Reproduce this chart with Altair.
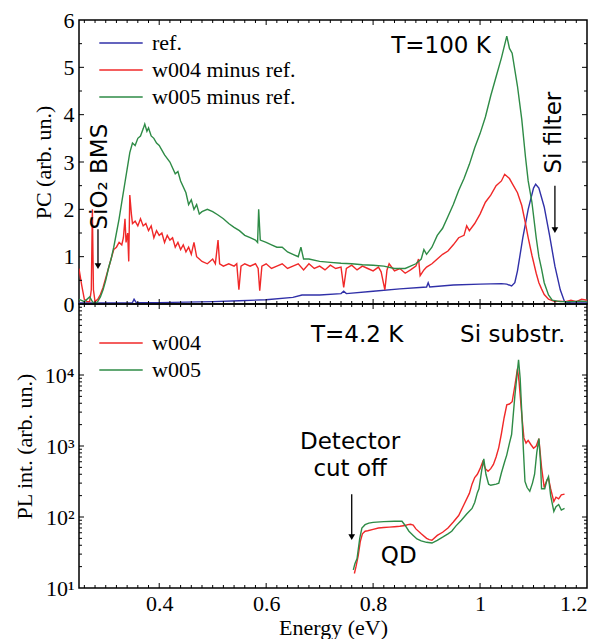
import altair as alt
import pandas as pd

# ---------------- data ----------------
# Top panel: photocurrent, T=100 K
ref_x = [0.25, 0.30, 0.35, 0.353, 0.357, 0.40, 0.45, 0.50, 0.55, 0.60, 0.65, 0.667, 0.70, 0.74,
         0.745, 0.75, 0.80, 0.85, 0.90, 0.903, 0.906, 0.95, 1.00, 1.04, 1.05, 1.059, 1.065, 1.07,
         1.08, 1.09, 1.10, 1.104, 1.11, 1.12, 1.13, 1.14, 1.15, 1.158, 1.17, 1.20]
ref_y = [0.02, 0.02, 0.03, 0.10, 0.03, 0.03, 0.04, 0.05, 0.07, 0.09, 0.14, 0.19, 0.19, 0.22,
         0.27, 0.22, 0.27, 0.32, 0.36, 0.45, 0.36, 0.40, 0.42, 0.43, 0.42, 0.38, 0.45, 0.70,
         1.40, 2.00, 2.45, 2.53, 2.45, 2.05, 1.45, 0.80, 0.30, 0.05, 0.02, 0.02]

w004_pc_x = [0.250, 0.255, 0.260, 0.265, 0.270, 0.273, 0.275, 0.277, 0.280, 0.285, 0.290, 0.295,
             0.300, 0.305, 0.310, 0.315, 0.320, 0.325, 0.330, 0.333, 0.336, 0.338, 0.341, 0.343,
             0.345, 0.348, 0.350, 0.355, 0.360, 0.365, 0.370, 0.375, 0.380, 0.385, 0.390, 0.395,
             0.400, 0.405, 0.410, 0.415, 0.420, 0.425, 0.430, 0.435, 0.440, 0.445, 0.450, 0.455,
             0.460, 0.465, 0.470, 0.475, 0.480, 0.490, 0.500, 0.505, 0.510, 0.513, 0.520, 0.530,
             0.540, 0.545, 0.549, 0.553, 0.560, 0.570, 0.580, 0.585, 0.588, 0.592, 0.600, 0.610,
             0.620, 0.630, 0.640, 0.650, 0.660, 0.670, 0.680, 0.690, 0.700, 0.710, 0.720, 0.730,
             0.740, 0.745, 0.750, 0.760, 0.770, 0.780, 0.790, 0.800, 0.810, 0.815, 0.822, 0.826,
             0.830, 0.840, 0.850, 0.860, 0.870, 0.880, 0.885, 0.888, 0.895, 0.900, 0.910, 0.920,
             0.930, 0.940, 0.950, 0.960, 0.970, 0.975, 0.980, 0.990, 1.000, 1.010, 1.020, 1.030,
             1.040, 1.046, 1.055, 1.060, 1.070, 1.078, 1.085, 1.090, 1.097, 1.105, 1.110, 1.115,
             1.120, 1.128, 1.140, 1.150, 1.160, 1.170, 1.180, 1.190, 1.200]
w004_pc_y = [0.75, 0.40, 0.10, 0.05, 0.05, 0.30, 2.00, 0.30, 0.05, 0.10, 0.20, 0.35,
             0.55, 0.75, 0.95, 1.15, 1.20, 1.30, 1.25, 1.40, 1.80, 1.30, 1.50, 0.90,
             2.30, 1.90, 1.70, 1.75, 1.65, 1.80, 1.65, 1.70, 1.55, 1.65, 1.40, 1.55,
             1.45, 1.50, 1.30, 1.45, 1.35, 1.40, 1.20, 1.30, 1.15, 1.25, 1.10, 1.20,
             1.05, 1.30, 1.00, 0.95, 0.90, 0.85, 0.95, 0.85, 1.35, 0.85, 0.80, 0.85,
             0.80, 0.85, 0.30, 0.80, 0.85, 0.80, 0.85, 0.75, 0.28, 0.80, 0.85, 0.75,
             0.80, 0.85, 0.75, 0.80, 0.85, 0.72, 0.85, 0.75, 0.80, 0.72, 0.82, 0.75,
             0.78, 0.35, 0.75, 0.82, 0.72, 0.80, 0.75, 0.70, 0.78, 0.68, 0.30, 0.72,
             0.85, 0.70, 0.75, 0.65, 0.72, 0.80, 0.95, 0.60, 0.72, 0.78, 0.85, 0.95,
             1.05, 1.12, 1.25, 1.40, 1.45, 1.65, 1.55, 1.70, 1.90, 2.15, 2.30, 2.50,
             2.60, 2.74, 2.65, 2.55, 2.35, 2.08, 1.70, 1.40, 1.03, 0.65, 0.45, 0.32,
             0.20, 0.10, 0.05, 0.06, 0.05, 0.08, 0.05, 0.10, 0.08]

w005_pc_x = [0.250, 0.260, 0.270, 0.275, 0.280, 0.285, 0.290, 0.295, 0.300, 0.305, 0.310, 0.315,
             0.320, 0.325, 0.330, 0.335, 0.340, 0.345, 0.350, 0.355, 0.360, 0.365, 0.370, 0.373,
             0.377, 0.380, 0.385, 0.390, 0.395, 0.400, 0.410, 0.420, 0.430, 0.435, 0.440, 0.450,
             0.455, 0.460, 0.465, 0.470, 0.475, 0.480, 0.490, 0.500, 0.510, 0.520, 0.530, 0.540,
             0.550, 0.560, 0.570, 0.580, 0.584, 0.586, 0.589, 0.600, 0.610, 0.620, 0.630, 0.640,
             0.650, 0.660, 0.665, 0.670, 0.680, 0.700, 0.720, 0.740, 0.760, 0.780, 0.800, 0.820,
             0.840, 0.860, 0.870, 0.880, 0.890, 0.895, 0.900, 0.910, 0.920, 0.930, 0.940, 0.950,
             0.960, 0.970, 0.980, 0.990, 1.000, 1.010, 1.020, 1.030, 1.040, 1.050, 1.055, 1.060,
             1.070, 1.078, 1.085, 1.090, 1.097, 1.105, 1.110, 1.115, 1.120, 1.128, 1.135, 1.150,
             1.170, 1.190, 1.200]
w005_pc_y = [0.10, 0.05, 0.15, 0.05, 0.00, 0.05, 0.15, 0.30, 0.50, 0.75, 0.95, 1.20,
             1.50, 1.80, 2.15, 2.50, 2.85, 3.20, 3.40, 3.35, 3.50, 3.55, 3.70, 3.80,
             3.65, 3.72, 3.55, 3.50, 3.40, 3.35, 3.15, 3.00, 2.75, 2.80, 2.60, 2.35,
             2.10, 2.20, 2.00, 2.10, 1.90, 1.95, 2.00, 1.95, 1.88, 1.80, 1.70, 1.62,
             1.55, 1.45, 1.40, 1.35, 1.30, 2.00, 1.35, 1.30, 1.25, 1.20, 1.20, 1.10,
             1.05, 1.00, 1.20, 0.95, 0.95, 0.90, 0.88, 0.86, 0.85, 0.83, 0.82, 0.80,
             0.75, 0.75, 0.80, 0.85, 0.95, 1.15, 1.05, 1.20, 1.45, 1.60, 1.85, 2.10,
             2.40, 2.65, 2.95, 3.30, 3.60, 3.95, 4.40, 4.80, 5.20, 5.66, 5.40, 5.30,
             4.60, 3.90, 3.10, 2.60, 2.15, 1.40, 1.00, 0.74, 0.45, 0.19, 0.08, 0.05,
             0.05, 0.06, 0.05]

# Bottom panel: photoluminescence, T=4.2 K
w004_pl_x = [0.765, 0.768, 0.772, 0.776, 0.780, 0.785, 0.790, 0.800, 0.810, 0.820, 0.830, 0.840,
             0.850, 0.860, 0.865, 0.870, 0.875, 0.880, 0.890, 0.900, 0.905, 0.910, 0.920, 0.930,
             0.940, 0.950, 0.960, 0.970, 0.980, 0.985, 0.990, 0.995, 1.000, 1.005, 1.010, 1.015,
             1.020, 1.025, 1.030, 1.035, 1.040, 1.045, 1.050, 1.055, 1.060, 1.065, 1.070, 1.073,
             1.078, 1.082, 1.086, 1.090, 1.095, 1.100, 1.105, 1.110, 1.115, 1.120, 1.125, 1.128,
             1.132, 1.138, 1.142, 1.147, 1.152, 1.158]
w004_pl_y = [16, 20, 28, 45, 58, 63, 64, 67, 70, 71, 72, 73,
             74, 76, 78, 79, 77, 68, 58, 50, 48, 47, 55, 61,
             70, 85, 105, 150, 215, 290, 360, 400, 480, 600, 480, 440,
             480, 550, 700, 950, 1500, 2500, 3800, 3900, 4200, 7000, 12300, 8000,
             2750, 1300, 1100, 1200, 1050, 930, 1000, 1270, 500, 260, 330, 350,
             250, 165, 190, 180, 205, 210]

w005_pl_x = [0.763, 0.766, 0.770, 0.775, 0.779, 0.785, 0.792, 0.800, 0.820, 0.840, 0.854, 0.860,
             0.867, 0.875, 0.882, 0.890, 0.900, 0.910, 0.920, 0.930, 0.940, 0.947, 0.955, 0.965,
             0.975, 0.985, 0.990, 0.995, 0.998, 1.003, 1.007, 1.011, 1.016, 1.020, 1.030, 1.035,
             1.040, 1.046, 1.050, 1.055, 1.059, 1.065, 1.072, 1.075, 1.078, 1.081, 1.084, 1.088,
             1.093, 1.098, 1.102, 1.106, 1.110, 1.113, 1.115, 1.121, 1.125, 1.128, 1.132, 1.138,
             1.142, 1.147, 1.152, 1.158]
w005_pl_y = [18, 22, 26, 50, 70, 78, 82, 84, 86, 87, 87, 76,
             63, 55, 49, 46, 44, 43, 47, 52, 58, 63, 75, 90,
             110, 132, 160, 220, 250, 450, 660, 400, 290, 280, 290, 300,
             420, 600, 750, 1100, 1450, 5000, 16400, 9000, 3000, 900, 317, 260,
             230, 300, 400, 800, 1270, 600, 250, 250, 330, 370, 200, 120,
             140, 150, 125, 132]

top_names = ["ref.", "w004 minus ref.", "w005 minus ref."]
top_colors = ["#3030a8", "#f02828", "#2e8b46"]
bot_names = ["w004", "w005"]
bot_colors = ["#f02828", "#2e8b46"]

# annotations (data coordinates)
top_text_x = [0.927]
top_text_y = [5.45]
top_text = ["T=100 K"]
top_rot_x = [0.289, 1.138]
top_rot_y = [2.69, 3.62]
top_rot_text = ["SiO\u2082 BMS", "Si filter"]
top_arrow_x = [0.2855, 1.140]
top_arrow_y1 = [1.58, 2.50]
top_arrow_y2 = [0.80, 1.56]

bot_text_x = [0.770, 1.061, 0.757, 0.757, 0.848]
bot_text_y = [36700, 36700, 1156, 468, 28]
bot_text = ["T=4.2 K", "Si substr.", "Detector", "cut off", "QD"]
bot_arrow_x = [0.760]
bot_arrow_y1 = [209]
bot_arrow_y2 = [52]

# tick positions
x_major = [0.4, 0.6, 0.8, 1.0]
x_minor = [round(0.26 + 0.02 * i, 2) for i in range(47)]
x_minor = [v for v in x_minor if v not in (0.4, 0.6, 0.8, 1.0, 1.2)]
ytop_major = [1, 2, 3, 4, 5]
ytop_minor = [0.5, 1.5, 2.5, 3.5, 4.5, 5.5]
ybot_major = [100, 1000, 10000]
ybot_minor = [k * 10 ** d for d in range(1, 5) for k in range(2, 10)]

# ---------------- chart ----------------
W, H = 508, 284
SERIF = "Liberation Serif"
SANS = "DejaVu Sans"
FS = 22
MAJ, MIN = 5, 3

xscale = alt.Scale(domain=[0.25, 1.2], nice=False, zero=False)
ytop_scale = alt.Scale(domain=[0, 6], nice=False)
ybot_scale = alt.Scale(type="log", domain=[10, 100000], nice=False)


def series_df(pairs):
    frames = []
    for name, xs, ys in pairs:
        frames.append(pd.DataFrame({"x": xs, "y": ys, "s": name}))
    return pd.concat(frames, ignore_index=True)


def X(field, top):
    if top:
        return alt.X(field, scale=xscale, axis=None)
    return alt.X(field, scale=xscale)


def tick_layers(yscale, ymaj, ymin, top):
    layers = []
    for vals, L in ((x_major, MAJ), (x_minor, MIN)):
        d = pd.DataFrame({"t": vals})
        base = alt.Chart(d).mark_rule(color="black", strokeWidth=1)
        layers.append(base.encode(x=X("t:Q", top), y=alt.value(H), y2=alt.value(H - L)))
        layers.append(base.encode(x=X("t:Q", top), y=alt.value(0), y2=alt.value(L)))
    for vals, L in ((ymaj, MAJ), (ymin, MIN)):
        d = pd.DataFrame({"t": vals})
        base = alt.Chart(d).mark_rule(color="black", strokeWidth=1)
        layers.append(base.encode(y=alt.Y("t:Q", scale=yscale), x=alt.value(0), x2=alt.value(L)))
        layers.append(base.encode(y=alt.Y("t:Q", scale=yscale), x=alt.value(W), x2=alt.value(W - L)))
    return layers


def legend(ly):
    return alt.Legend(title=None, orient="none", legendX=31, legendY=ly,
                      symbolType="M-3.1,0H3.1", symbolSize=196, symbolStrokeWidth=1.5,
                      labelFont=SERIF, labelFontSize=FS, labelOffset=20, rowPadding=5,
                      padding=0, labelLimit=400, labelColor="black")


# top panel
top_df = series_df([(top_names[0], ref_x, ref_y),
                    (top_names[1], w004_pc_x, w004_pc_y),
                    (top_names[2], w005_pc_x, w005_pc_y)])
top_lines = alt.Chart(top_df).mark_line(strokeWidth=1.4, clip=True).encode(
    x=X("x:Q", True),
    y=alt.Y("y:Q", scale=ytop_scale,
            axis=alt.Axis(values=[0, 1, 2, 3, 4, 5, 6], title="PC (arb. un.)", format="d")),
    color=alt.Color("s:N", scale=alt.Scale(domain=top_names, range=top_colors), legend=legend(12)),
)
top_txt = alt.Chart(pd.DataFrame({"x": top_text_x, "y": top_text_y, "t": top_text})).mark_text(
    font=SANS, fontSize=23, color="black").encode(
    x=X("x:Q", True), y=alt.Y("y:Q", scale=ytop_scale), text="t:N")
top_rot = alt.Chart(pd.DataFrame({"x": top_rot_x, "y": top_rot_y, "t": top_rot_text})).mark_text(
    font=SANS, fontSize=23, color="black", angle=270).encode(
    x=X("x:Q", True), y=alt.Y("y:Q", scale=ytop_scale), text="t:N")
top_arr_df = pd.DataFrame({"x": top_arrow_x, "y1": top_arrow_y1, "y2": top_arrow_y2})
top_arr = alt.Chart(top_arr_df).mark_rule(color="black", strokeWidth=1.3).encode(
    x=X("x:Q", True), y=alt.Y("y1:Q", scale=ytop_scale), y2="y2:Q")
top_head = alt.Chart(top_arr_df).mark_point(shape="triangle-down", filled=True, color="black",
                                            size=45, opacity=1).encode(
    x=X("x:Q", True), y=alt.Y("y2:Q", scale=ytop_scale))

top = alt.layer(top_lines, top_txt, top_rot, top_arr, top_head,
                *tick_layers(ytop_scale, ytop_major, ytop_minor, True)).properties(width=W, height=H)

# bottom panel
bot_df = series_df([(bot_names[0], w004_pl_x, w004_pl_y),
                    (bot_names[1], w005_pl_x, w005_pl_y)])
sup = "datum.value == 10 ? '10\u00b9' : datum.value == 100 ? '10\u00b2' : datum.value == 1000 ? '10\u00b3' : '10\u2074'"
bot_lines = alt.Chart(bot_df).mark_line(strokeWidth=1.4, clip=True).encode(
    x=alt.X("x:Q", scale=xscale,
            axis=alt.Axis(values=[0.4, 0.6, 0.8, 1.0, 1.2], title="Energy (eV)",
                          labelExpr="datum.value == 1 ? '1' : format(datum.value, '.1f')",
                          labelPadding=5, titlePadding=3)),
    y=alt.Y("y:Q", scale=ybot_scale,
            axis=alt.Axis(values=[10, 100, 1000, 10000], title="PL int. (arb. un.)", labelExpr=sup)),
    color=alt.Color("s:N", scale=alt.Scale(domain=bot_names, range=bot_colors), legend=legend(28)),
)
bot_txt = alt.Chart(pd.DataFrame({"x": bot_text_x, "y": bot_text_y, "t": bot_text})).mark_text(
    font=SANS, fontSize=23, color="black").encode(
    x=X("x:Q", False), y=alt.Y("y:Q", scale=ybot_scale), text="t:N")
bot_arr_df = pd.DataFrame({"x": bot_arrow_x, "y1": bot_arrow_y1, "y2": bot_arrow_y2})
bot_arr = alt.Chart(bot_arr_df).mark_rule(color="black", strokeWidth=1.3).encode(
    x=X("x:Q", False), y=alt.Y("y1:Q", scale=ybot_scale), y2="y2:Q")
bot_head = alt.Chart(bot_arr_df).mark_point(shape="triangle-down", filled=True, color="black",
                                            size=45, opacity=1).encode(
    x=X("x:Q", False), y=alt.Y("y2:Q", scale=ybot_scale))

bottom = alt.layer(bot_lines, bot_txt, bot_arr, bot_head,
                   *tick_layers(ybot_scale, ybot_major, ybot_minor, False)).properties(width=W, height=H)

chart = alt.vconcat(top, bottom, spacing=0, bounds="flush").resolve_scale(
    color="independent"
).properties(
    padding={"left": 4, "top": 0, "right": 2, "bottom": 0}
).configure_view(
    stroke="black", strokeWidth=1.5
).configure_axis(
    grid=False, domain=False, ticks=False,
    labelFont=SERIF, labelFontSize=FS, labelColor="black", labelPadding=5,
    titleFont=SERIF, titleFontSize=FS, titleFontWeight="normal", titleColor="black",
    titlePadding=8,
)

chart.save("out.html", embed_options={"renderer": "svg", "actions": False})
